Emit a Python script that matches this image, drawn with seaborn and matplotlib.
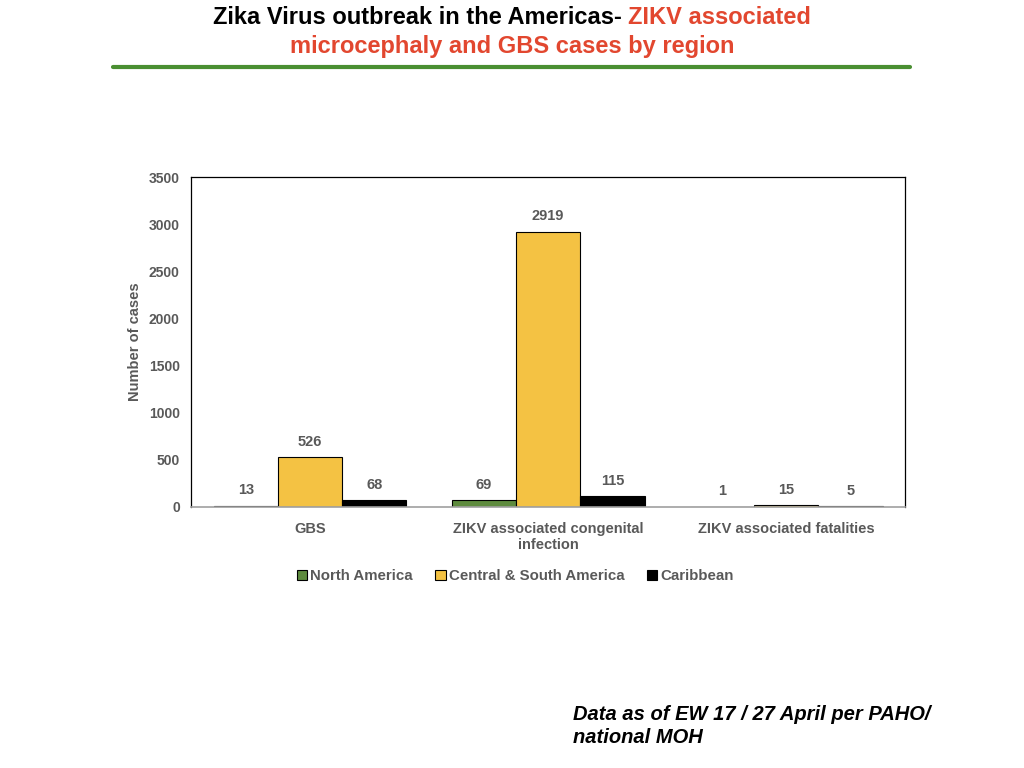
import seaborn as sns
import matplotlib.pyplot as plt
import pandas as pd
from matplotlib.lines import Line2D

# data
categories = ['GBS', 'ZIKV associated congenital\ninfection', 'ZIKV associated fatalities']
regions = ['North America', 'Central & South America', 'Caribbean']
north_america = [13, 69, 1]
central_south = [526, 2919, 15]
caribbean = [68, 115, 5]
colors = ['#5e8b3e', '#f4c243', '#000000']

rows = []
for reg, vals in zip(regions, [north_america, central_south, caribbean]):
    for cat, v in zip(categories, vals):
        rows.append({'category': cat, 'region': reg, 'cases': v})
df = pd.DataFrame(rows)

sns.set_style('white')
plt.rcParams['font.family'] = ['Liberation Sans', 'DejaVu Sans']

fig = plt.figure(figsize=(10.24, 7.68), dpi=100)
ax = fig.add_axes([0.1865, 0.340, 0.6975, 0.4295])

sns.barplot(data=df, x='category', y='cases', hue='region', palette=colors, saturation=1,
            edgecolor='black', linewidth=0.8, ax=ax, width=0.81)

gray = '#595959'
for cont in ax.containers:
    ax.bar_label(cont, padding=6, fontsize=10.5, fontweight='bold', color=gray)

ax.set_ylim(0, 3500)
ax.set_yticks(range(0, 3501, 500))
ax.set_xlabel('')
ax.set_ylabel('Number of cases', fontsize=10.5, fontweight='bold', color=gray, labelpad=5)
ax.tick_params(axis='y', length=0, labelsize=10, labelcolor=gray, pad=8)
ax.tick_params(axis='x', length=0, labelsize=10.5, labelcolor=gray, pad=11)
for lab in ax.get_xticklabels() + ax.get_yticklabels():
    lab.set_fontweight('bold')
for side in ['top', 'right', 'left']:
    ax.spines[side].set_color('black')
    ax.spines[side].set_linewidth(0.9)
ax.spines['bottom'].set_color('#a0a0a0')
ax.spines['bottom'].set_linewidth(1.2)

ax.legend_.remove()
handles = [plt.Rectangle((0, 0), 1, 1, facecolor=c, edgecolor='black', linewidth=0.8) for c in colors]
fig.legend(handles, regions, loc='center', bbox_to_anchor=(0.503, 1 - 576 / 768), ncol=3,
           frameon=False, handlelength=0.7, handleheight=0.7, handletextpad=0.2, columnspacing=1.5,
           prop={'size': 10.8, 'weight': 'bold'}, labelcolor=gray)

# title in two colours
red = '#e2472f'
fig.canvas.draw()
r = fig.canvas.get_renderer()
y1 = 1 - 18 / 768
t1 = fig.text(0, y1, 'Zika Virus outbreak in the Americas-\u00a0', fontsize=17, fontweight='bold',
              color='black', va='center', ha='left')
t2 = fig.text(0, y1, 'ZIKV associated', fontsize=17, fontweight='bold',
              color=red, va='center', ha='left')
w1 = t1.get_window_extent(r).width / fig.bbox.width
w2 = t2.get_window_extent(r).width / fig.bbox.width
x0 = 0.5 - (w1 + w2) / 2
t1.set_x(x0)
t2.set_x(x0 + w1)
fig.text(0.5, 1 - 46 / 768, 'microcephaly and GBS cases by region', fontsize=17, fontweight='bold',
         color=red, va='center', ha='center')

fig.add_artist(Line2D([113 / 1024, 910 / 1024], [1 - 67 / 768, 1 - 67 / 768], color='#4a8f32', linewidth=3))

fig.text(573 / 1024, 1 - 726 / 768, 'Data as of EW 17 / 27 April per PAHO/\nnational MOH', fontsize=14.5,
         fontweight='bold', fontstyle='italic', color='black', va='center', ha='left', linespacing=1.3)

fig.savefig('out.png', dpi=100)
